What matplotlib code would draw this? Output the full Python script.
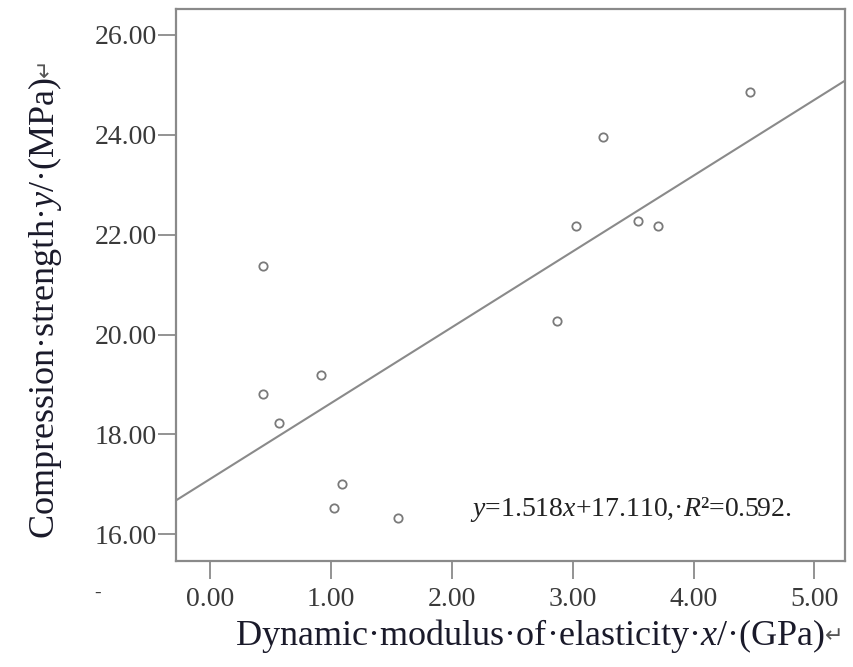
import numpy as np
import matplotlib.pyplot as plt

# ====== DATA ======
modulus_x = [0.44, 0.92, 0.44, 0.57, 1.09, 1.02, 1.55, 2.87, 3.03, 3.25, 3.54, 3.71, 4.47]
strength_y = [21.38, 19.20, 18.80, 18.22, 17.01, 16.52, 16.32, 20.28, 22.18, 23.96, 22.27, 22.18, 24.86]
slope = 1.518
intercept = 17.110
r2 = 0.592
x_ticks = [0, 1, 2, 3, 4, 5]
y_ticks = [16, 18, 20, 22, 24, 26]

plt.rcParams["font.family"] = ["Liberation Serif", "DejaVu Sans"]
plt.rcParams["mathtext.fontset"] = "custom"
plt.rcParams["mathtext.rm"] = "Liberation Serif"
plt.rcParams["mathtext.it"] = "Liberation Serif:italic"

GREY = "#8a8a8a"
TXT = "#3a3a3a"
LBL = "#1a1a2a"

fig = plt.figure(figsize=(8.54, 6.67), dpi=100)
ax = fig.add_axes([176 / 854, 1 - 561 / 667, (845 - 176) / 854, (561 - 9) / 667])

xlim = (-0.284, 5.254)
ylim = (15.465, 26.52)
ax.set_xlim(*xlim)
ax.set_ylim(*ylim)

# fit line across the whole axes
lx = np.array(xlim)
ax.plot(lx, slope * lx + intercept, color=GREY, lw=1.5, zorder=2)

ax.plot(modulus_x, strength_y, linestyle="none", marker="o", ms=6,
        mfc="white", mec="#7a7a7a", mew=1.3, zorder=3)

ax.set_xticks(x_ticks)
ax.set_yticks(y_ticks)
ax.set_xticklabels([f"{v:.2f}" for v in x_ticks])
ax.set_yticklabels([f"{v:.2f}" for v in y_ticks])
ax.tick_params(axis="both", length=13, width=1.3, color=GREY, labelcolor=TXT, labelsize=20)
ax.tick_params(axis="y", pad=1)
ax.tick_params(axis="x", pad=6)
for s in ax.spines.values():
    s.set_color(GREY)
    s.set_linewidth(1.6)

eq = r"$\mathit{y}$=%.3f$\mathit{x}$+%.3f,·$\mathit{R}$²=%.3f." % (slope, intercept, r2)
ax.text(2.15, 16.49, eq, fontsize=20, color="#222222", ha="left", va="center")

# axis labels (the return mark is added separately, Liberation Serif lacks it)
xl = fig.text(530 / 854, 1 - 636 / 667, r"Dynamic·modulus·of·elasticity·$\mathit{x}$/·(GPa)",
              fontsize=26, color=LBL, ha="center", va="center")
fig.canvas.draw()
ax.annotate("↵", xy=(1, 0.5), xycoords=xl, ha="left", va="center",
            fontsize=16, color="#555555", family="DejaVu Sans")

yl = fig.text(45 / 854, 1 - 308 / 667, r"Compression·strength·$\mathit{y}$/·(MPa)",
              fontsize=26, color=LBL, ha="center", va="center", rotation=90)
fig.canvas.draw()
ax.annotate("↵", xy=(0.5, 1), xycoords=yl, ha="center", va="bottom", rotation=90,
            fontsize=16, color="#555555", family="DejaVu Sans")

fig.text(98 / 854, 1 - 593 / 667, "-", fontsize=14, color=TXT, ha="center", va="center")

fig.savefig("out.png", dpi=100)
